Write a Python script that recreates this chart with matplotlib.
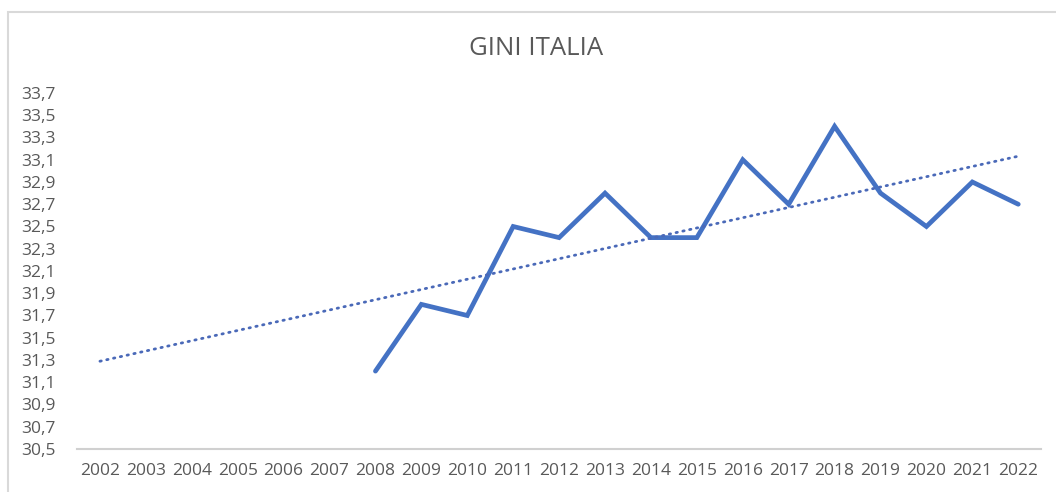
import matplotlib.pyplot as plt
import numpy as np
from matplotlib.patches import Rectangle

# dati indice di Gini (Italia)
anni = [str(a) for a in range(2002, 2023)]
gini = [None, None, None, None, None, None,
        31.2, 31.8, 31.7, 32.5, 32.4, 32.8, 32.4, 32.4,
        33.1, 32.7, 33.4, 32.8, 32.5, 32.9, 32.7]
y_ticks = [30.5, 30.7, 30.9, 31.1, 31.3, 31.5, 31.7, 31.9, 32.1, 32.3,
           32.5, 32.7, 32.9, 33.1, 33.3, 33.5, 33.7]

plt.rcParams['font.family'] = ['Open Sans', 'DejaVu Sans']
grigio = '#595959'
blu = '#4472C4'

fig = plt.figure(figsize=(10.56, 4.92), dpi=100)
ax = fig.add_axes([0.0729, 0.0874, 0.9131, 0.7236])

x = np.arange(len(anni))
y = np.array([np.nan if v is None else v for v in gini])
ax.plot(x, y, color=blu, linewidth=3.4, solid_joinstyle='miter', solid_capstyle='round')

# linea di tendenza lineare sui dati disponibili
ok = ~np.isnan(y)
m, q = np.polyfit(x[ok], y[ok], 1)
ax.plot(x, m * x + q, color='#4a69b8', linewidth=2.0, linestyle=(0, (0.5, 2.0)),
        dash_capstyle='round')

ax.set_xlim(-0.5, len(anni) - 0.5)
ax.set_ylim(30.5, 33.7)
ax.set_xticks(x)
ax.set_xticklabels(anni)
ax.set_yticks(y_ticks)
ax.set_yticklabels([f'{v:.1f}'.replace('.', ',') for v in y_ticks], ha='left')

ax.tick_params(axis='both', length=0, colors=grigio, labelsize=12.5)
ax.tick_params(axis='x', pad=10)
ax.tick_params(axis='y', pad=40)
for s in ['top', 'right', 'left']:
    ax.spines[s].set_visible(False)
ax.spines['bottom'].set_color('#d0d0d0')
ax.spines['bottom'].set_linewidth(1.5)

fig.text(0.508, 0.902, 'GINI ITALIA', ha='center', va='center',
         fontsize=18.5, color=grigio)

# cornice del grafico
fig.patches.append(Rectangle((8 / 1056, -0.1), 1.2, 1 - 12 / 492 + 0.1,
                             transform=fig.transFigure, fill=False,
                             edgecolor='#d9d9d9', linewidth=1.5))

fig.savefig('out.png', dpi=100)
